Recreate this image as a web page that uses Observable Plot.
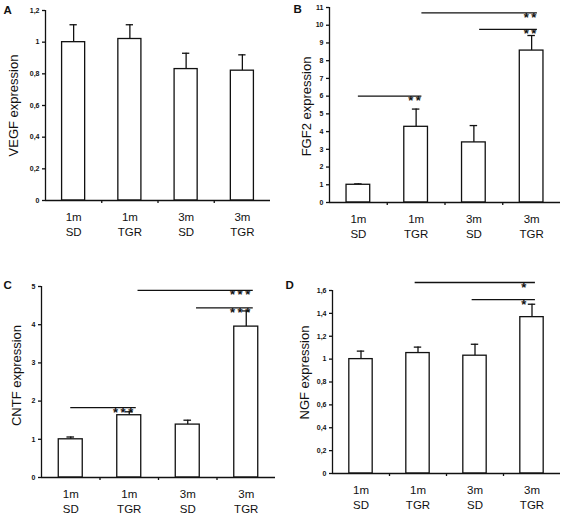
<!DOCTYPE html>
<html><head><meta charset="utf-8">
<script src="https://cdn.jsdelivr.net/npm/d3@7"></script>
<script src="https://cdn.jsdelivr.net/npm/@observablehq/plot@0.6"></script>
<style>
body{margin:0;background:#fff;}
#wrap{position:relative;width:563px;height:517px;overflow:hidden;background:#fff;}
#wrap svg{position:absolute;overflow:visible;}
</style></head><body><div id="wrap"></div>
<script>
// ---- data ----
const groups = ["1m\nSD", "1m\nTGR", "3m\nSD", "3m\nTGR"];

const vegfMean = [1.00, 1.02, 0.83, 0.82];
const vegfSe   = [0.11, 0.09, 0.10, 0.10];
const vegfTicks = [0, 0.2, 0.4, 0.6, 0.8, 1, 1.2];

const fgf2Mean = [1.00, 4.27, 3.39, 8.57];
const fgf2Se   = [0.05, 1.00, 0.95, 0.85];
const fgf2Ticks = [0, 1, 2, 3, 4, 5, 6, 7, 8, 9, 10, 11];
const fgf2Sig = [
  {from: 1, to: 2, y: 6.0, label: "**"},
  {from: 2, to: 4, y: 10.7, label: "**"},
  {from: 3, to: 4, y: 9.77, label: "**"}
];

const cntfMean = [1.00, 1.63, 1.385, 3.95];
const cntfSe   = [0.06, 0.09, 0.115, 0.41];
const cntfTicks = [0, 1, 2, 3, 4, 5];
const cntfSig = [
  {from: 1, to: 2, y: 1.83, label: "***"},
  {from: 2, to: 4, y: 4.9, label: "***"},
  {from: 3, to: 4, y: 4.44, label: "***"}
];

const ngfMean = [1.00, 1.053, 1.03, 1.367];
const ngfSe   = [0.07, 0.052, 0.10, 0.113];
const ngfTicks = [0, 0.2, 0.4, 0.6, 0.8, 1, 1.2, 1.4, 1.6];
const ngfSig = [
  {from: 2, to: 4, y: 1.67, label: "*"},
  {from: 3, to: 4, y: 1.52, label: "*"}
];

// ---- layout / style ----
const panels = [
  {letter: "A", ylabel: "VEGF expression", mean: vegfMean, se: vegfSe, ticks: vegfTicks, ymax: 1.2, sig: [],
   left: 0, top: 0, width: 280, height: 260, ml: 45, mr: 10, mt: 10, mb: 60,
   ylab: [13, 105], let: [3, 13], startPad: 0.1, endPad: 0.1, starDx: -1},
  {letter: "B", ylabel: "FGF2 expression", mean: fgf2Mean, se: fgf2Se, ticks: fgf2Ticks, ymax: 11, sig: fgf2Sig,
   left: 280, top: 0, width: 283, height: 260, ml: 49, mr: 3, mt: 7, mb: 58,
   ylab: [26, 106], let: [13, 12], startPad: 0.1, endPad: 0.1, starDx: -1},
  {letter: "C", ylabel: "CNTF expression", mean: cntfMean, se: cntfSe, ticks: cntfTicks, ymax: 5, sig: cntfSig,
   left: 0, top: 260, width: 280, height: 257, ml: 41, mr: 5, mt: 26, mb: 40,
   ylab: [16, 115], let: [3, 28], startPad: 0.15, endPad: 0.12, starDx: -3},
  {letter: "D", ylabel: "NGF expression", mean: ngfMean, se: ngfSe, ticks: ngfTicks, ymax: 1.6, sig: ngfSig,
   left: 280, top: 260, width: 283, height: 257, ml: 52, mr: 3, mt: 30, mb: 44,
   ylab: [24, 112], let: [5, 28], startPad: -0.05, endPad: 0.06, starDx: -9}
];

const BW = 0.41, CAP = 0.065, SW = 1.3, INK = "#111";
const fmt = d => d3.format(".1~f")(d).replace(".", ",");

const wrap = document.getElementById("wrap");
for (const p of panels) {
  const rows = groups.map((g, i) => ({x: i + 1, mean: p.mean[i], top: p.mean[i] + p.se[i]}));
  const sig = p.sig.map(s => ({...s, x1: s.from + (s.from === 1 ? 0 : p.startPad), x2: s.to + p.endPad}));
  const fh = p.height - p.mt - p.mb;
  const svg = Plot.plot({
    width: p.width, height: p.height,
    marginLeft: p.ml, marginRight: p.mr, marginTop: p.mt, marginBottom: p.mb,
    x: {domain: [0.5, 4.5]},
    y: {domain: [0, p.ymax]},
    style: {fontFamily: "Arial, 'Liberation Sans', sans-serif", background: "white", color: INK, overflow: "visible"},
    marks: [
      Plot.ruleX(rows, {x: "x", y1: "mean", y2: "top", stroke: INK, strokeWidth: SW}),
      Plot.ruleY(rows, {x1: d => d.x - CAP, x2: d => d.x + CAP, y: "top", stroke: INK, strokeWidth: SW}),
      Plot.rect(rows, {x1: d => d.x - BW / 2, x2: d => d.x + BW / 2, y1: 0, y2: "mean", fill: "white", stroke: INK, strokeWidth: SW}),
      Plot.ruleY([0], {stroke: INK, strokeWidth: SW}),
      Plot.ruleX([0.5], {stroke: INK, strokeWidth: SW}),
      Plot.axisY({ticks: p.ticks, tickFormat: fmt, tickSize: 3, tickPadding: 3, fontSize: 7, fontWeight: "bold", label: null, strokeWidth: SW}),
      Plot.axisX({ticks: [1.5, 2.5, 3.5], tickSize: 3, tickFormat: () => "", label: null, strokeWidth: SW}),
      Plot.axisX({ticks: [1, 2, 3, 4], tickSize: 0, tickPadding: 10, tickFormat: i => groups[i - 1], fontSize: 11.5, lineHeight: 1.3, label: null}),
      Plot.ruleY(sig, {x1: "x1", x2: "x2", y: "y", stroke: INK, strokeWidth: SW}),
      Plot.text(sig, {x: "x2", y: "y", text: d => d.label.split("").join("\u2009"), textAnchor: "end", lineAnchor: "middle",
        fontSize: 13, fontWeight: "bold", dx: p.starDx, dy: 5, fill: INK}),
      Plot.text([p.ylabel], {text: d => d, frameAnchor: "left", rotate: -90, textAnchor: "middle", lineAnchor: "middle",
        dx: p.ylab[0] - p.ml, dy: p.ylab[1] - (p.mt + fh / 2), fontSize: 13, fill: INK}),
      Plot.text([p.letter], {text: d => d, frameAnchor: "top-left", textAnchor: "start", lineAnchor: "bottom",
        dx: p.let[0] - p.ml, dy: p.let[1] - p.mt, fontSize: 11.5, fontWeight: "bold", fill: INK})
    ]
  });
  svg.style.left = p.left + "px";
  svg.style.top = p.top + "px";
  wrap.appendChild(svg);
}
</script>
</body></html>
